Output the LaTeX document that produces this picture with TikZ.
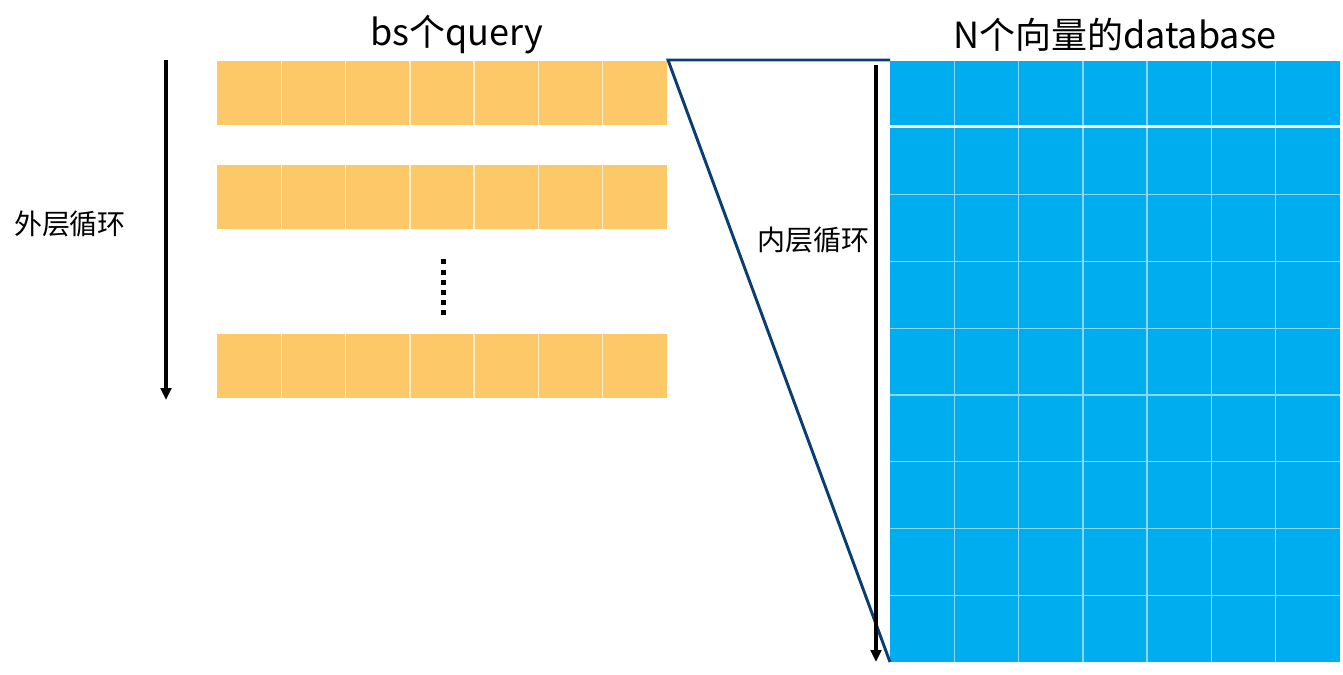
\documentclass[tikz,border=0pt]{standalone}
\usepackage{fontspec}
\setmainfont{Noto Sans CJK SC}
\usetikzlibrary{arrows.meta}
\definecolor{qcol}{RGB}{253,200,104}
\definecolor{qline}{RGB}{255,238,205}
\definecolor{dbcol}{RGB}{0,174,239}
\definecolor{dbline}{RGB}{140,215,248}
\definecolor{tri}{RGB}{10,61,115}
\tikzset{
  title/.style={font=\fontsize{27}{30}\selectfont, inner sep=0pt},
  looplabel/.style={font=\fontsize{21}{24}\selectfont, inner sep=0pt},
  looparrow/.style={line width=2.4pt, -{Triangle[length=9pt,width=8pt]}},
  qsep/.style={draw=qline, line width=1.1pt},
  dbsep/.style={draw=dbline, line width=1.1pt},
  tribound/.style={draw=tri, line width=2.2pt, line join=miter},
  dotsq/.style={fill=black}
}
\begin{document}
\begin{tikzpicture}[x=0.75pt,y=-0.75pt]
\useasboundingbox (0,0) rectangle (1343,675);
% query rows
\foreach \yt in {61,165,334}{
  \fill[qcol] (217,\yt) rectangle (667,\yt+64);
  \foreach \i in {1,...,6}{
    \draw[qsep] ({217+\i*450/7},\yt) -- ({217+\i*450/7},\yt+64);
  }
}
% dots
\foreach \yy in {259,269.5,280,289.5,299.5,310}{
  \fill[dotsq] (441,\yy) rectangle (446,\yy+5);
}
% database
\fill[dbcol] (890,61) rectangle (1340,125);
\fill[dbcol] (890,128) rectangle (1340,662);
\foreach \i in {1,...,6}{
  \draw[dbsep] ({890+\i*450/7},61) -- ({890+\i*450/7},125);
  \draw[dbsep] ({890+\i*450/7},128) -- ({890+\i*450/7},662);
}
\foreach \k in {1,...,7}{
  \draw[dbsep] (890,{128+\k*534/8}) -- (1340,{128+\k*534/8});
}
% triangle
\coordinate (tA) at (668,60);
\coordinate (tB) at (890,60);
\coordinate (tC) at (890,662);
\draw[tribound] (tB) -- (tA) -- (tC);
% arrows
\coordinate (o1) at (166,60);
\coordinate (o2) at (166,400);
\coordinate (i1) at (876,65);
\coordinate (i2) at (876,662);
\draw[looparrow] (o1) -- (o2);
\draw[looparrow] (i1) -- (i2);
% texts
\node[title] (t1) at (457,35) {bs个query};
\node[title] (t2) at (1115,35) {N个向量的database};
\node[looplabel] (l1) at (70,224) {外层循环};
\node[looplabel] (l2) at (813,240) {内层循环};
\end{tikzpicture}
\end{document}
